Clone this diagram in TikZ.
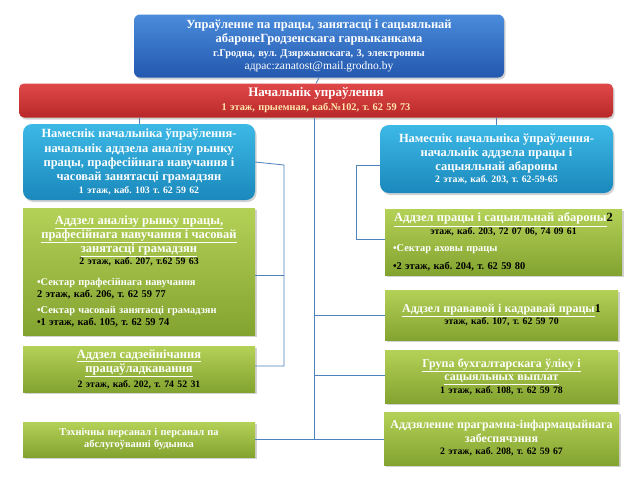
\documentclass[tikz,border=0pt]{standalone}
\usepackage{fontspec}
\setmainfont{Liberation Serif}
\usetikzlibrary{shadows}
\setlength\parindent{0pt}
\frenchspacing
\definecolor{lnblue}{HTML}{4F81BD}
\definecolor{hdrtop}{HTML}{4A8BDB}
\definecolor{hdrbot}{HTML}{2358AE}
\definecolor{redtop}{HTML}{E04848}
\definecolor{redbot}{HTML}{B82828}
\definecolor{cream}{HTML}{FFE6B0}
\definecolor{cyantop}{HTML}{3DB9E6}
\definecolor{cyanbot}{HTML}{1A88BC}
\definecolor{grntop}{HTML}{B4D157}
\definecolor{grnbot}{HTML}{83A330}
\newcommand\szA{\fontsize{12.5}{14}\selectfont}
\newcommand\szB{\fontsize{12}{13.5}\selectfont}
\newcommand\szC{\fontsize{9.8}{12.5}\selectfont}
\newcommand\szD{\fontsize{10.4}{12}\selectfont}
\tikzstyle{box}=[inner sep=2pt, align=center, font=\bfseries,
    drop shadow={shadow xshift=1.5pt, shadow yshift=-2pt, opacity=0.35}]
\tikzstyle{hdr}=[box, rounded corners=6pt, top color=hdrtop,
    bottom color=hdrbot, text=white]
\tikzstyle{chief}=[box, rounded corners=5pt, top color=redtop,
    bottom color=redbot, text=white]
\tikzstyle{dep}=[box, rounded corners=9pt, top color=cyantop,
    bottom color=cyanbot, text=white]
\tikzstyle{sec}=[box, top color=grntop, bottom color=grnbot, text=white]
\tikzstyle{ln}=[draw=lnblue, line width=0.8pt]
\def\lbus{284}
\def\rbus{356}

\begin{document}
\begin{tikzpicture}[x=1pt, y=-1pt]
    \useasboundingbox[fill=white] (0,0) rectangle (640,480);
    \node (top) [hdr, minimum width=370, minimum height=63, text width=362pt]
        at (319,46) {{\szA Упраўленне па працы, занятасці і сацыяльнай\\
        абаронеГродзенскага гарвыканкама\par}
        {\fontsize{10.4}{13.5}\selectfont г.Гродна, вул. Дзяржынскага, 3, электронны\par}
        {\fontsize{11.5}{13.5}\selectfont\mdseries адрас:zanatost@mail.grodno.by\par}};
    \node (red) [chief, minimum width=594, minimum height=34, text width=586pt]
        at (316,100.5) {{\fontsize{13}{15}\selectfont Начальнік упраўлення\par}
        {\fontsize{10.3}{14}\selectfont\color{cream}1 этаж, прыемная, каб.№102, т. 62 59 73\par}};
    % deputies
    \node (bl) [dep, minimum width=232, minimum height=76, text width=226pt]
        at (139,162) {{\fontsize{12.5}{14.3}\selectfont Намеснік начальніка ўпраўлення-\\
        начальнік аддзела аналізу рынку\\ працы, прафесійнага навучання і\\
        часовай занятасці грамадзян\par}{\szC 1 этаж, каб. 103 т. 62 59 62\par}};
    \node (br) [dep, minimum width=233, minimum height=68, text width=227pt]
        at (496.5,159) {{\szA Намеснік начальніка ўпраўлення-\\
        начальнік аддзела працы і\\ сацыяльнай абароны\par}
        {\szC 2 этаж, каб. 203, т. 62-59-65\par}};
    % left departments
    \node (gl1) [sec, minimum width=232, minimum height=127, text width=226pt]
        at (139,271.5) {{\szA\underline{Аддзел аналізу рынку працы,}\\
        \underline{прафесійнага навучання і часовай}\\
        \underline{занятасці грамадзян}\par}
        {\szC\color{black}2 этаж, каб. 207, т.62 59 63\par}
        \vspace{9pt}
        {\raggedright\leftskip=11pt\szD
        •Сектар прафесійнага навучання\\
        {\color{black}2 этаж, каб. 206, т. 62 59 77}\par\vspace{4pt}
        •Сектар часовай занятасці грамадзян\\
        {\color{black}•1 этаж, каб. 105, т. 62 59 74}\par}};
    \node (gl2) [sec, minimum width=232, minimum height=46, text width=226pt]
        at (139,369) {{\szA\underline{Аддзел садзейнічання}\\
        \underline{працаўладкавання}\par}
        {\fontsize{9.8}{15}\selectfont\color{black}2 этаж, каб. 202, т. 74 52 31\par}};
    \node (gl3) [sec, minimum width=232, minimum height=35, text width=226pt]
        at (139,439.5) {{\szD Тэхнічны персанал і персанал па\\
        абслугоўванні будынка\par}};
    % right departments
    \node (gr1) [sec, minimum width=237, minimum height=66, text width=233pt]
        at (503.5,242) {{\szA\underline{Аддзел працы і сацыяльнай абароны}%
        {\color{black}2}\par}
        {\szC\color{black}этаж, каб. 203, 72 07 06, 74 09 61\par}
        \vspace{5pt}
        {\raggedright\leftskip=6pt\szD •Сектар аховы працы\par\vspace{6pt}
        {\color{black}•2 этаж, каб. 204, т. 62 59 80}\par}};
    \node (gr2) [sec, minimum width=233, minimum height=50, text width=229pt]
        at (501.5,315) {{\szB\underline{Аддзел прававой і кадравай працы}%
        {\color{black}1}\par}
        {\szC\color{black}этаж, каб. 107, т. 62 59 70\par}};
    \node (gr3) [sec, minimum width=233, minimum height=53, text width=229pt]
        at (501.5,376.5) {{\szB\underline{Група бухгалтарскага ўліку і}\\
        \underline{сацыяльных выплат}\par}
        {\szC\color{black}1 этаж, каб. 108, т. 62 59 78\par}};
    \node (gr4) [sec, minimum width=233, minimum height=53, text width=231pt]
        at (501.5,438.5) {{\fontsize{12}{13.5}\selectfont
        \mbox{Аддзяленне праграмна-інфармацыйнага}\\ забеспячэння\par}
        {\szC\color{black}2 этаж, каб. 208, т. 62 59 67\par}};
    % connectors
    \coordinate (spine) at (314,440);
    \draw[ln] (top.south) -- (red.north);
    \draw[ln] (red.south -| spine) -- (spine);
    \draw[ln] (bl.north |- red.south) -- (bl.north);
    \draw[ln] (br.north |- red.south) -- (br.north);
    \draw[ln] (bl.east) -- (\lbus,165) |- ([yshift=3pt]gl2.east);
    \draw[ln] ([yshift=-3.5pt]gl1.east) -- ++(\lbus-255,0);
    \draw[ln] ([yshift=-6pt]br.west) -| (\rbus,239) -- ([yshift=3pt]gr1.west);
    \draw[ln] (spine |- gr2.west) -- (gr2.west);
    \draw[ln] ([yshift=1.5pt]gr3.west -| spine) -- ([yshift=1.5pt]gr3.west);
    \draw[ln] (gl3.east) -- (gl3.east -| gr4.west);
\end{tikzpicture}
\end{document}
